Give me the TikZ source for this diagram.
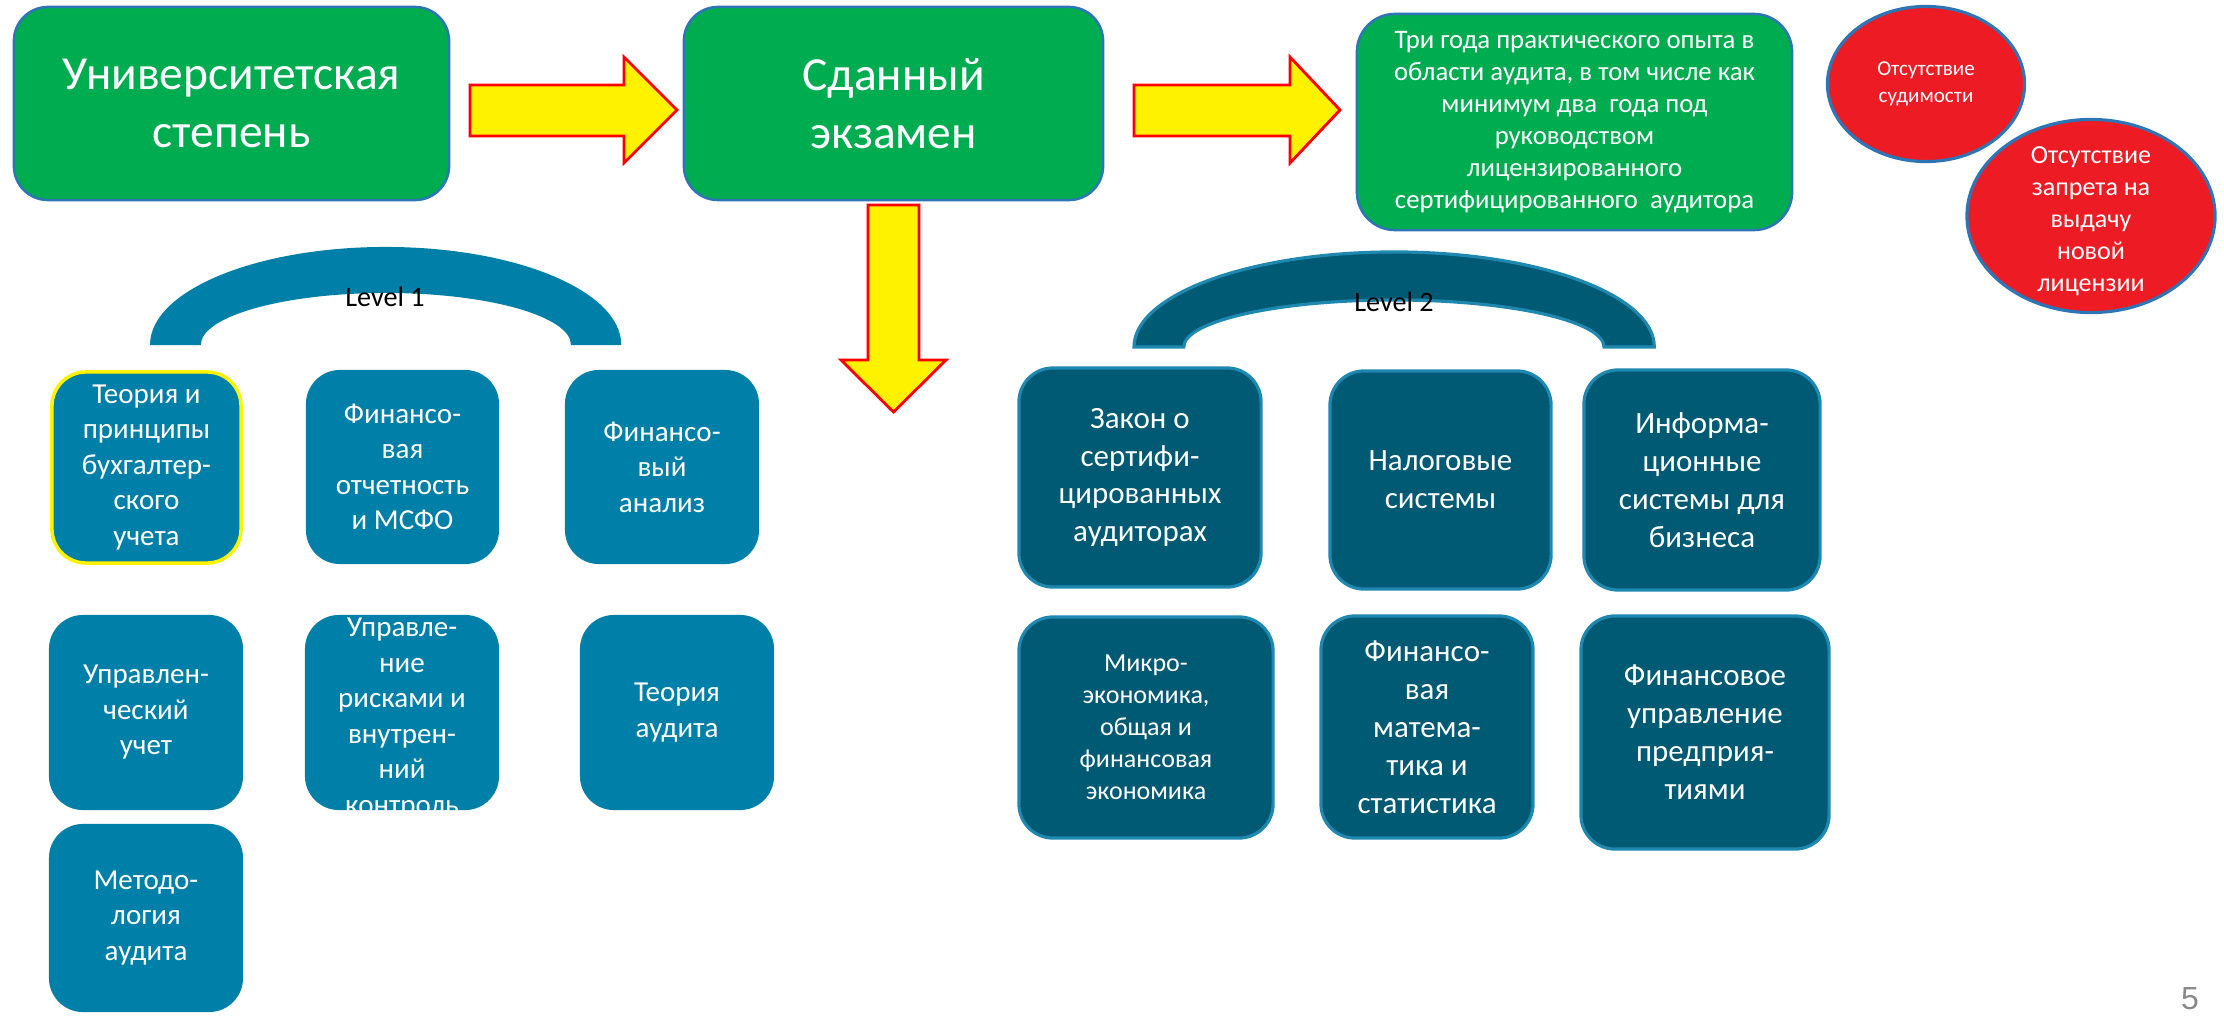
\documentclass[tikz,border=0pt]{standalone}
\usepackage{fontspec}
\setmainfont{Carlito}
\newfontfamily\numfont{Liberation Sans}
\usetikzlibrary{shapes.geometric}

\definecolor{verde}{RGB}{0,172,80}
\definecolor{azuluno}{RGB}{0,128,168}
\definecolor{azuldos}{RGB}{0,90,115}
\definecolor{bordeazul}{RGB}{46,117,182}
\definecolor{bordeclaro}{RGB}{30,136,176}
\definecolor{rojo}{RGB}{237,28,36}
\definecolor{grispag}{RGB}{137,137,137}

\tikzset{
  cajaverde/.style={rectangle, rounded corners=0.34cm, fill=verde, draw=bordeazul, line width=0.7pt,
    text=white, align=center, inner sep=0pt},
  niveluno/.style={rectangle, rounded corners=0.34cm, fill=azuluno, text=white, align=center,
    inner sep=0pt, font=\fontsize{8.25}{10.1}\selectfont},
  niveldos/.style={rectangle, rounded corners=0.34cm, fill=azuldos, draw=bordeclaro, line width=0.9pt,
    text=white, align=center, inner sep=0pt, font=\fontsize{8.8}{10.8}\selectfont},
  circrojo/.style={ellipse, fill=rojo, draw=bordeazul, line width=0.9pt, inner sep=0pt},
  flechagorda/.style={fill=yellow, draw=red, line width=0.8pt},
  etiqueta/.style={font=\fontsize{8}{9.6}\selectfont, text=black},
}

\begin{document}
\begin{tikzpicture}[x=0.01cm, y=-0.01cm]
  \useasboundingbox (0,0) rectangle (2224,1015);

  % Fila superior: requisitos
  \node[cajaverde, minimum width=4.35cm, minimum height=1.93cm, font=\fontsize{13.5}{16.5}\selectfont]
    (grado) at (231.5,103.5) {Университетская\\степень};
  \node[cajaverde, minimum width=4.19cm, minimum height=1.93cm, font=\fontsize{13.5}{16.5}\selectfont]
    (examen) at (893.5,103.5) {Сданный\\экзамен};
  \node[cajaverde, rounded corners=0.38cm, minimum width=4.35cm, minimum height=2.16cm,
    font=\fontsize{7.6}{9.1}\selectfont]
    (practica) at (1574.5,122) {Три года практического опыта в\\области аудита, в том числе как\\минимум два\ \ года под\\руководством\\лицензированного\\сертифицированного\ \ аудитора};

  % Circulos rojos
  \node[circrojo, minimum width=1.97cm, minimum height=1.55cm] (circa) at (1926,84) {};
  \node[text=white, align=center, font=\fontsize{6}{7.7}\selectfont] (circatxt) at (circa) {Отсутствие\\судимости};
  \node[circrojo, minimum width=2.48cm, minimum height=1.93cm] (circb) at (2091,216) {};
  \node[text=white, align=center, font=\fontsize{7.4}{9.1}\selectfont, yshift=-0.05cm] (circbtxt) at (circb)
    {Отсутствие\\запрета на\\выдачу\\новой\\лицензии};

  % Flechas amarillas
  \draw[flechagorda] (470,85) -- (624,85) -- (624,57) -- (677,110) -- (624,163) -- (624,136) -- (470,136) -- cycle;
  \draw[flechagorda] (1134,85) -- (1290,85) -- (1290,57) -- (1340,110) -- (1290,163) -- (1290,136) -- (1134,136) -- cycle;
  \draw[flechagorda] (868,205) -- (868,360) -- (841,360) -- (893.5,412) -- (946,360) -- (919,360) -- (919,205) -- cycle;

  % Arcos de nivel
  \fill[azuluno] (150,345) arc[start angle=180, end angle=0, x radius=2.355cm, y radius=0.98cm]
    -- (571,345) arc[start angle=0, end angle=180, x radius=1.85cm, y radius=0.52cm] -- cycle;
  \node[etiqueta] (niv1) at (385,297) {Level 1};
  \draw[fill=azuldos, draw=bordeclaro, line width=0.9pt] (1134,347) arc[start angle=180, end angle=0, x radius=2.6cm, y radius=0.95cm]
    -- (1604,347) arc[start angle=0, end angle=180, x radius=2.1cm, y radius=0.47cm] -- cycle;
  \node[etiqueta] (niv2) at (1394,302) {Level 2};

  % Nivel 1
  \node[niveluno, draw=yellow, line width=1pt, minimum width=1.89cm, minimum height=1.91cm]
    (teoria) at (146.5,467.5) {Теория и\\принципы\\бухгалтер-\\ского\\учета};
  \node[niveluno, minimum width=1.93cm, minimum height=1.94cm] (msfo) at (402.5,467) {Финансо-\\вая\\отчетность\\и МСФО};
  \node[niveluno, minimum width=1.94cm, minimum height=1.94cm] (analiz) at (662,467) {Финансо-\\вый\\анализ};
  \node[niveluno, minimum width=1.94cm, minimum height=1.95cm] (upruchet) at (146,712.5) {Управлен-\\ческий\\учет};
  \node[niveluno, minimum width=1.94cm, minimum height=1.95cm] (riesgo) at (402,712.5) {};
  \node[text=white, align=center, font=\fontsize{8.25}{10.1}\selectfont, yshift=-0.06cm] (riesgotxt) at (riesgo)
    {Управле-\\ние\\рисками и\\внутрен-\\ний\\контроль};
  \node[niveluno, minimum width=1.94cm, minimum height=1.95cm] (teoraud) at (677,712.5) {Теория\\аудита};
  \node[niveluno, minimum width=1.94cm, minimum height=1.88cm] (metod) at (146,918) {Методо-\\логия\\аудита};

  % Nivel 2
  \node[niveldos, minimum width=2.42cm, minimum height=2.19cm] (zakon) at (1140,477.5) {Закон о\\сертифи-\\цированных\\аудиторах};
  \node[niveldos, minimum width=2.21cm, minimum height=2.18cm] (nalog) at (1440.5,480) {Налоговые\\системы};
  \node[niveldos, minimum width=2.36cm, minimum height=2.20cm] (inform) at (1702,480) {Информа-\\ционные\\системы для\\бизнеса};
  \node[niveldos, minimum width=2.54cm, minimum height=2.21cm, font=\fontsize{7.4}{9.1}\selectfont]
    (mikro) at (1146,727.5) {Микро-\\экономика,\\общая и\\финансовая\\экономика};
  \node[niveldos, minimum width=2.12cm, minimum height=2.22cm] (matem) at (1427,727) {Финансо-\\вая\\матема-\\тика и\\статистика};
  \node[niveldos, minimum width=2.48cm, minimum height=2.33cm] (finupr) at (1705,732.5) {Финансовое\\управление\\предприя-\\тиями};

  % Numero de pagina
  \node[font=\numfont\fontsize{9.1}{11}\selectfont, text=grispag] (pagina) at (2190,998.5) {5};
\end{tikzpicture}
\end{document}
